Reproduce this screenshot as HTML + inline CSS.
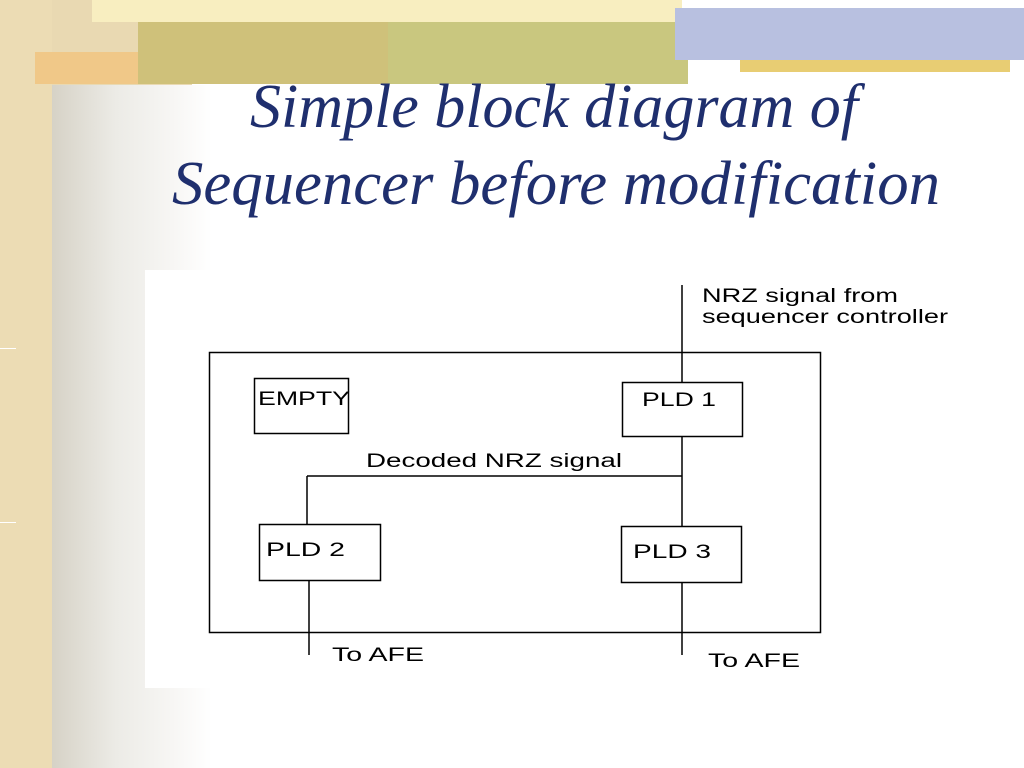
<!DOCTYPE html>
<html><head><style>
html,body{margin:0;padding:0;}
body{width:1024px;height:768px;position:relative;overflow:hidden;background:#fff;}
.a{position:absolute;}
</style></head><body>
<div class="a" style="left:0;top:0;width:52px;height:768px;background:#ecdcb4;"></div>
<div class="a" style="left:0;top:348px;width:16px;height:1px;background:#fff;"></div>
<div class="a" style="left:0;top:522px;width:16px;height:1px;background:#fff;"></div>
<div class="a" style="left:52px;top:85px;width:160px;height:683px;background:linear-gradient(90deg,#d6d2c6 0%,#ecebe6 40%,#f7f6f4 75%,#fff 100%);"></div>
<div class="a" style="left:52px;top:0;width:140px;height:85px;background:#e9d9b2;"></div>
<div class="a" style="left:92px;top:0;width:590px;height:22px;background:#f8eec0;"></div>
<div class="a" style="left:35px;top:52px;width:130px;height:32px;background:#f0c888;"></div>
<div class="a" style="left:138px;top:22px;width:250px;height:62px;background:#cfc17a;"></div>
<div class="a" style="left:388px;top:22px;width:300px;height:62px;background:#c9c77f;"></div>
<div class="a" style="left:675px;top:8px;width:349px;height:52px;background:#b8c0e0;"></div>
<div class="a" style="left:740px;top:60px;width:270px;height:12px;background:#e2c050;opacity:.8;"></div>
<div class="a" style="left:145px;top:270px;width:879px;height:418px;background:#fff;"></div>
<svg class="a" style="left:0;top:0" width="1024" height="768" font-family="Liberation Sans, sans-serif" font-size="19" fill="none" stroke="#000" stroke-width="1.5">
<g fill="#1f2f6e" stroke="none" font-family="Liberation Serif, serif" font-style="italic" font-size="62">
<text x="250" y="127" textLength="608" lengthAdjust="spacingAndGlyphs">Simple block diagram of</text>
<text x="172" y="204" textLength="768" lengthAdjust="spacingAndGlyphs">Sequencer before modification</text>
</g>
<rect x="209.5" y="352.5" width="611" height="280"/>
<rect x="254.5" y="378.5" width="94" height="55"/>
<rect x="622.5" y="382.5" width="120" height="54"/>
<rect x="259.5" y="524.5" width="121" height="56"/>
<rect x="621.5" y="526.5" width="120" height="56"/>
<line x1="682" y1="285" x2="682" y2="382"/>
<line x1="682" y1="437" x2="682" y2="526"/>
<line x1="682" y1="583" x2="682" y2="655"/>
<line x1="307" y1="476" x2="682" y2="476"/>
<line x1="307" y1="476" x2="307" y2="524"/>
<line x1="309" y1="581" x2="309" y2="655"/>
<g fill="#000" stroke="none">
<text x="702" y="302" textLength="196" lengthAdjust="spacingAndGlyphs">NRZ signal from</text>
<text x="702" y="323" textLength="246" lengthAdjust="spacingAndGlyphs">sequencer controller</text>
<text x="258" y="405" textLength="92" lengthAdjust="spacingAndGlyphs">EMPTY</text>
<text x="642" y="406" textLength="74" lengthAdjust="spacingAndGlyphs">PLD 1</text>
<text x="366" y="467" textLength="256" lengthAdjust="spacingAndGlyphs">Decoded NRZ signal</text>
<text x="266" y="556" textLength="79" lengthAdjust="spacingAndGlyphs">PLD 2</text>
<text x="633" y="558" textLength="78" lengthAdjust="spacingAndGlyphs">PLD 3</text>
<text x="332" y="661" textLength="92" lengthAdjust="spacingAndGlyphs">To AFE</text>
<text x="708" y="667" textLength="92" lengthAdjust="spacingAndGlyphs">To AFE</text>
</g>
</svg>
</body></html>
